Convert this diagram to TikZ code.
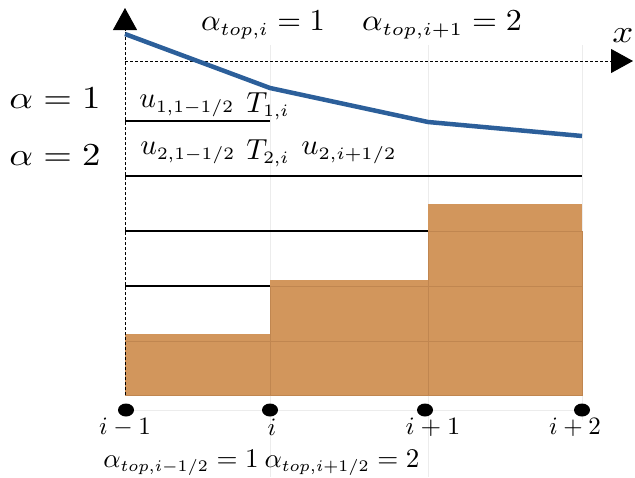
\documentclass[tikz,border=0pt]{standalone}
\usetikzlibrary{arrows.meta,shapes.geometric}
\DeclareMathSizes{10}{10}{6}{5}
\definecolor{bblue}{RGB}{44,95,154}
\definecolor{borange}{RGB}{210,150,92}
\definecolor{dorange}{RGB}{192,134,80}
\tikzset{
  axisline/.style={dashed, dash pattern=on 3pt off 2pt, line width=0.9pt, -{Triangle[length=22pt,width=24pt]}},
  layer/.style={line width=2.6pt, black},
  cell/.style={fill=borange, draw=dorange, line width=0.6pt},
  grid/.style={draw=gray!15, line width=0.6pt},
  dot/.style={ellipse, fill=black, minimum width=16pt, minimum height=13pt, inner sep=0pt},
  big/.style={inner sep=0pt, scale=3.2, xscale=1.15},
  mid/.style={inner sep=0pt, scale=3.05},
  lab/.style={inner sep=0pt, scale=2.9},
  small/.style={inner sep=0pt, scale=2.5},
  bot/.style={inner sep=0pt, scale=2.7},
}
\begin{document}
\begin{tikzpicture}[x=1pt,y=-1pt]
\useasboundingbox (0,0) rectangle (635,477);
% faint grid
\draw[grid] (270,45) -- (270,477);
\draw[grid] (428,45) -- (428,477);
\draw[grid] (582,45) -- (582,420);
\draw[grid] (125,410) -- (582,410);
% bars
\draw[cell] (125,341) rectangle (270,395);
\fill[borange] (125,334) rectangle (270,341);
\draw[dorange, line width=0.6pt] (125,341) -- (270,341);
\draw[cell] (270,341) rectangle (428,395);
\draw[cell] (270,286) rectangle (428,341);
\fill[borange] (270,280) rectangle (428,286);
\draw[cell] (428,341) rectangle (582,395);
\draw[cell] (428,286) rectangle (582,341);
\draw[cell] (428,231) rectangle (582,286);
\fill[borange] (428,204) rectangle (582,231);
% layer lines
\coordinate (l1a) at (125,121); \coordinate (l1b) at (270,121);
\coordinate (l2a) at (125,176); \coordinate (l2b) at (582,176);
\coordinate (l3a) at (125,231); \coordinate (l3b) at (428,231);
\coordinate (l4a) at (125,286); \coordinate (l4b) at (270,286);
\draw[layer] (l1a) -- (l1b);
\draw[layer] (l2a) -- (l2b);
\draw[layer] (l3a) -- (l3b);
\draw[layer] (l4a) -- (l4b);
% axes
\coordinate (o) at (125,395);
\coordinate (ytip) at (125,8);
\coordinate (xs) at (125,61);
\coordinate (xtip) at (633,61);
\draw[axisline] (o) -- (ytip);
\draw[axisline] (xs) -- (xtip);
% surface
\coordinate (s0) at (125,34); \coordinate (s1) at (270,88);
\coordinate (s2) at (428,122); \coordinate (s3) at (582,136);
\draw[bblue, line width=4.5pt, line join=round] (s0) -- (s1) -- (s2) -- (s3);
% dots
\node[dot] (p0) at (126,410) {};
\node[dot] (p1) at (270,410) {};
\node[dot] (p2) at (425,410) {};
\node[dot] (p3) at (582,410) {};
% labels
\node[inner sep=0pt, scale=3.2, xscale=1.15] (xl) at (623,36) {$x$};
\node[big] (a1) at (55,98) {$\alpha=1$};
\node[big] (a2) at (55,155) {$\alpha=2$};
\node[mid] (t1) at (263,25) {$\alpha_{top,i}=1$};
\node[mid, xscale=1.05] (t2) at (442,25) {$\alpha_{top,i+1}=2$};
\node[lab] (u1) at (187,106) {$u_{1,1-1/2}$};
\node[lab] (T1) at (268,106) {$T_{1,i}$};
\node[lab] (u2) at (188,153) {$u_{2,1-1/2}$};
\node[lab] (T2) at (268,153) {$T_{2,i}$};
\node[lab, xscale=1.04] (u3) at (349,153) {$u_{2,i+1/2}$};
\node[small] (i0) at (125,427) {$i-1$};
\node[small] (i1) at (272,427) {$i$};
\node[small, xscale=1.06] (i2) at (433,427) {$i+1$};
\node[small] (i3) at (575,427) {$i+2$};
\node[bot] (b1) at (181,463) {$\alpha_{top,i-1/2}=1$};
\node[bot] (b2) at (342,463) {$\alpha_{top,i+1/2}=2$};
\end{tikzpicture}
\end{document}
